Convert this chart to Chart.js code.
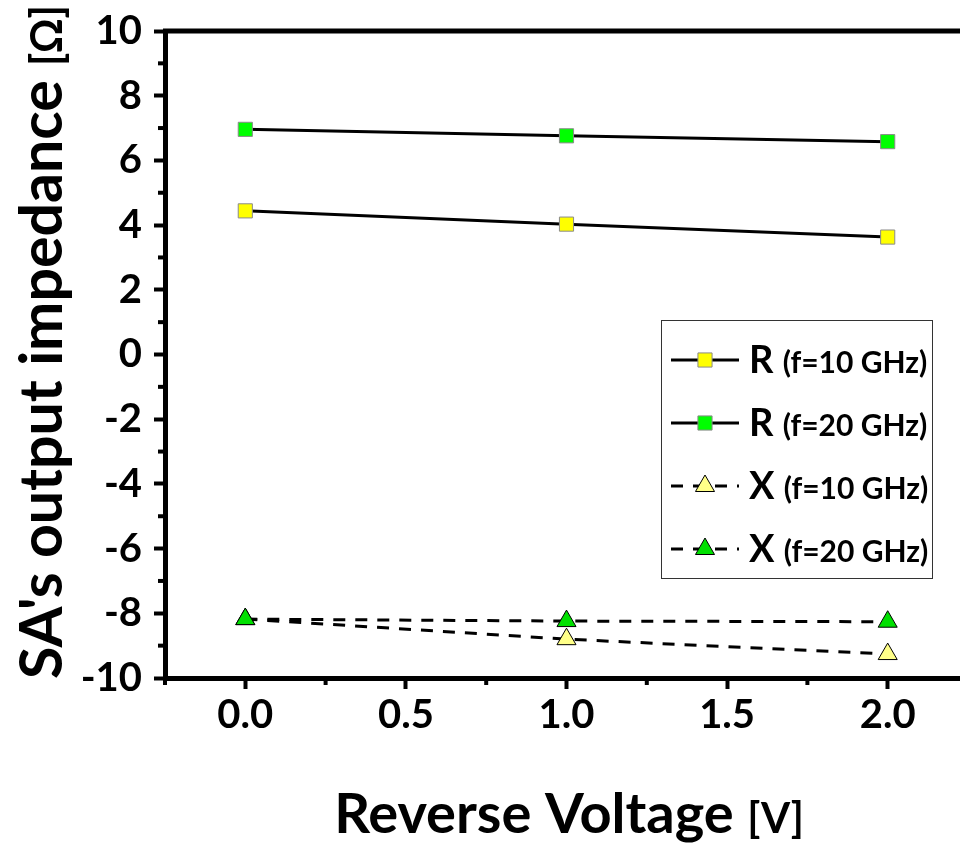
<!DOCTYPE html>
<html>
<head>
<meta charset="utf-8">
<script src="https://cdn.jsdelivr.net/npm/chart.js@4"></script>
<style>
  html, body { margin:0; padding:0; background:#fff; overflow:hidden; }
  #wrap { width:980px; height:844px; position:relative; }
</style>
</head>
<body>
<div id="wrap"><canvas id="c" width="980" height="844"></canvas></div>
<script>
// ---- data ----
const voltages = [0, 1, 2];
const r10 = [4.44, 4.03, 3.63];
const r20 = [6.96, 6.76, 6.58];
const x10 = [-8.18, -8.80, -9.26];
const x20 = [-8.18, -8.24, -8.26];
const seriesLabels = ['R', 'R', 'X', 'X'];
const seriesSub = ['(f=10 GHz)', '(f=20 GHz)', '(f=10 GHz)', '(f=20 GHz)'];
const xTitle = 'Reverse Voltage';
const xUnit = '[V]';
const yTitle = "SA's output impedance";
const yUnit = '[Ω]';
const xTickValues = [0, 0.5, 1, 1.5, 2];
const yTickValues = [-10, -8, -6, -4, -2, 0, 2, 4, 6, 8, 10];

const FONT = 'Lato, "Open Sans", sans-serif';
const pts = arr => voltages.map((v, i) => ({x: v, y: arr[i]}));
const DASH = [12, 10];

const ds = [
  {label:'R10', data:pts(r10), borderColor:'#000', borderWidth:3, pointStyle:'rect', pointRadius:10,
   pointBackgroundColor:'#FFFF00', pointBorderColor:'#8a8a8a', pointBorderWidth:1, order:4},
  {label:'R20', data:pts(r20), borderColor:'#000', borderWidth:3, pointStyle:'rect', pointRadius:10,
   pointBackgroundColor:'#00FF00', pointBorderColor:'#8a8a8a', pointBorderWidth:1, order:3},
  {label:'X10', data:pts(x10), borderColor:'#000', borderWidth:3, borderDash:DASH, pointStyle:'triangle', pointRadius:11,
   pointBackgroundColor:'#FFFF88', pointBorderColor:'#000', pointBorderWidth:1, order:2},
  {label:'X20', data:pts(x20), borderColor:'#000', borderWidth:3, borderDash:DASH, pointStyle:'triangle', pointRadius:11,
   pointBackgroundColor:'#00E000', pointBorderColor:'#000', pointBorderWidth:1, order:1},
];

const extras = {
  id:'extras',
  afterDraw(chart) {
    const ctx = chart.ctx, a = chart.chartArea;
    const xs = chart.scales.x, ys = chart.scales.y;
    ctx.save();
    // top border
    ctx.strokeStyle = '#000'; ctx.lineWidth = 5;
    ctx.beginPath(); ctx.moveTo(a.left - 2, a.top); ctx.lineTo(a.right + 3, a.top); ctx.stroke();
    // minor ticks
    ctx.lineWidth = 4;
    for (let v = -9; v <= 9; v += 2) {
      const p = ys.getPixelForValue(v);
      ctx.beginPath(); ctx.moveTo(a.left, p); ctx.lineTo(a.left - 7, p); ctx.stroke();
    }
    for (let v = -0.25; v <= 2.26; v += 0.5) {
      const p = xs.getPixelForValue(v);
      ctx.beginPath(); ctx.moveTo(p, a.bottom); ctx.lineTo(p, a.bottom + 7); ctx.stroke();
    }
    // x title
    ctx.fillStyle = '#000';
    ctx.textBaseline = 'alphabetic';
    ctx.font = 'bold 56px ' + FONT;
    const w1 = ctx.measureText(xTitle + ' ').width;
    ctx.font = 'bold 42px ' + FONT;
    const w2 = ctx.measureText(xUnit).width;
    let sx = 569 - (w1 + w2) / 2;
    ctx.font = 'bold 56px ' + FONT; ctx.textAlign = 'left';
    ctx.fillText(xTitle + ' ', sx, 833);
    ctx.font = 'bold 42px ' + FONT;
    ctx.fillText(xUnit, sx + w1, 833);
    // y title
    ctx.save();
    ctx.translate(62, 342);
    ctx.rotate(-Math.PI / 2);
    ctx.font = 'bold 59px ' + FONT;
    const h1 = ctx.measureText(yTitle + ' ').width;
    ctx.font = 'bold 43px ' + FONT;
    const h2 = ctx.measureText(yUnit).width;
    let sy = -(h1 + h2) / 2;
    ctx.font = 'bold 59px ' + FONT;
    ctx.fillText(yTitle + ' ', sy, 0);
    ctx.font = 'bold 43px ' + FONT;
    ctx.fillText(yUnit, sy + h1, 0);
    ctx.restore();
    // legend
    const L = {x:661, y:320, w:271, h:258};
    ctx.lineWidth = 1; ctx.strokeStyle = '#333';
    ctx.strokeRect(L.x + 0.5, L.y + 0.5, L.w, L.h);
    const rows = [360, 423, 486, 549];
    chart.data.datasets.forEach((d, i) => {
      const yy = rows[i];
      ctx.save();
      ctx.strokeStyle = '#000'; ctx.lineWidth = 3;
      ctx.setLineDash(d.borderDash || []);
      ctx.beginPath(); ctx.moveTo(671, yy); ctx.lineTo(739, yy); ctx.stroke();
      ctx.restore();
      ctx.save();
      ctx.fillStyle = d.pointBackgroundColor; ctx.strokeStyle = d.pointBorderColor; ctx.lineWidth = 1;
      Chart.helpers.drawPoint(ctx, {pointStyle:d.pointStyle, radius:d.pointRadius, borderWidth:1}, 705, yy);
      ctx.restore();
      ctx.fillStyle = '#000'; ctx.textBaseline = 'alphabetic'; ctx.textAlign = 'left';
      ctx.font = 'bold 38px ' + FONT;
      ctx.fillText(seriesLabels[i], 749, yy + 13);
      const rw = ctx.measureText(seriesLabels[i] + ' ').width;
      ctx.font = 'bold 30px ' + FONT;
      ctx.fillText(seriesSub[i], 749 + rw, yy + 13);
    });
    ctx.restore();
  }
};

new Chart(document.getElementById('c'), {
  type:'line',
  data:{datasets:ds},
  options:{
    responsive:false, animation:false,
    layout:{padding:{top:31, right:8, left:0, bottom:0}},
    plugins:{legend:{display:false}, tooltip:{enabled:false}},
    elements:{line:{tension:0}},
    scales:{
      x:{type:'linear', min:-0.25, max:2.25,
         afterFit(s){ s.height = 166; },
         afterBuildTicks(s){ s.ticks = xTickValues.map(v=>({value:v})); },
         ticks:{font:{family:FONT, size:40, weight:'bold'}, color:'#000', padding:2,
                callback:v=>v.toFixed(1)},
         grid:{drawOnChartArea:false, drawTicks:true, tickLength:11, tickWidth:4, tickColor:'#000'},
         border:{display:true, color:'#000', width:5}},
      y:{type:'linear', min:-10, max:10,
         afterFit(s){ s.width = 165; },
         afterBuildTicks(s){ s.ticks = yTickValues.map(v=>({value:v})); },
         ticks:{font:{family:FONT, size:40, weight:'bold', lineHeight:0.9}, color:'#000', padding:12,
                callback:v=>String(v)},
         grid:{drawOnChartArea:false, drawTicks:true, tickLength:11, tickWidth:4, tickColor:'#000'},
         border:{display:true, color:'#000', width:5}}
    }
  },
  plugins:[extras]
});
</script>
</body>
</html>
